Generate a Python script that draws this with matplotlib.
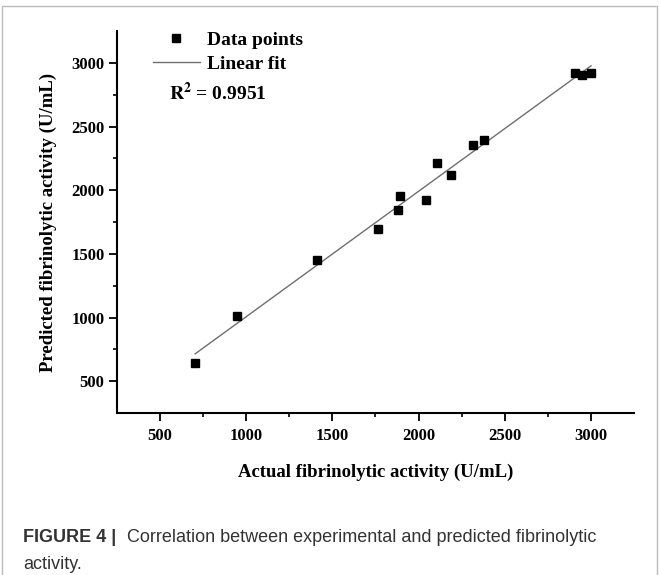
import numpy as np
import matplotlib
matplotlib.use("Agg")
import matplotlib.pyplot as plt
from matplotlib.lines import Line2D
from matplotlib.patches import Rectangle

# Data
actual = [704, 948, 1409, 1766, 1879, 1892, 2041, 2105, 2186, 2318, 2378, 2906, 2947, 3001]
predicted = [645, 1014, 1451, 1693, 1844, 1954, 1920, 2216, 2119, 2355, 2394, 2920, 2905, 2920]
ticks = [500, 1000, 1500, 2000, 2500, 3000]
r2_text = "0.9951"

plt.rcParams["font.family"] = ["Liberation Serif", "DejaVu Serif"]
plt.rcParams["mathtext.fontset"] = "stix"

fig = plt.figure(figsize=(6.59, 5.75), dpi=100)
ax = fig.add_axes([0.1775, 0.2817, 0.7845, 0.6643])

# Linear fit
coef = np.polyfit(actual, predicted, 1)
xf = np.array([min(actual), max(actual)])
ax.plot(xf, np.polyval(coef, xf), color="#6e6e6e", lw=1.0, zorder=2)

ax.plot(actual, predicted, "s", color="black", markersize=6, zorder=3)

ax.set_xlim(250, 3250)
ax.set_ylim(250, 3250)
ax.set_xticks(ticks)
ax.set_yticks(ticks)
ax.set_xticks(np.arange(750, 3250, 500), minor=True)
ax.set_yticks(np.arange(750, 3250, 500), minor=True)
ax.tick_params(which="major", direction="out", length=6, width=1.3, labelsize=12)
ax.tick_params(which="minor", direction="out", length=3, width=1.2)
ax.tick_params(axis="x", which="major", pad=5)
ax.tick_params(axis="y", which="major", pad=3)
for lbl in ax.get_xticklabels() + ax.get_yticklabels():
    lbl.set_fontweight("bold")

for side in ["top", "right"]:
    ax.spines[side].set_visible(False)
for side in ["left", "bottom"]:
    ax.spines[side].set_linewidth(1.5)

ax.set_xlabel("Actual fibrinolytic activity (U/mL)", fontsize=13.5, fontweight="bold", labelpad=14)
ax.set_ylabel("Predicted fibrinolytic activity (U/mL)", fontsize=13.5, fontweight="bold", labelpad=10)

handles = [
    Line2D([], [], ls="none", marker="s", color="black", markersize=6),
    Line2D([], [], color="#6e6e6e", lw=1.0),
]
leg = fig.legend(handles, ["Data points", "Linear fit"], loc="upper left",
                 bbox_to_anchor=(0.232, 0.946), frameon=False, borderpad=0,
                 borderaxespad=0, handlelength=2.4, handletextpad=0.36,
                 labelspacing=0.33, prop={"weight": "bold", "size": 14})
fig.text(0.2565, 0.838, r"$\mathbf{R^2}$ = " + r2_text, fontsize=14,
         fontweight="bold", va="center", ha="left")

# Caption
cap_font = ["Liberation Sans Narrow", "Liberation Sans", "DejaVu Sans"]
fig.text(0.035, 0.058, "FIGURE 4 |", fontsize=13, fontweight="bold", color="#333333",
         family=cap_font)
fig.text(0.193, 0.058, "Correlation between experimental and predicted fibrinolytic",
         fontsize=13, color="#333333", family=cap_font)
fig.text(0.035, 0.011, "activity.", fontsize=13, color="#333333", family=cap_font)

# Outer frame
fig.patches.append(Rectangle((0.003, -0.01), 0.994, 1.0, transform=fig.transFigure,
                             fill=False, edgecolor="#bbbbbb", lw=1.0))

fig.savefig("out.png", dpi=100)
